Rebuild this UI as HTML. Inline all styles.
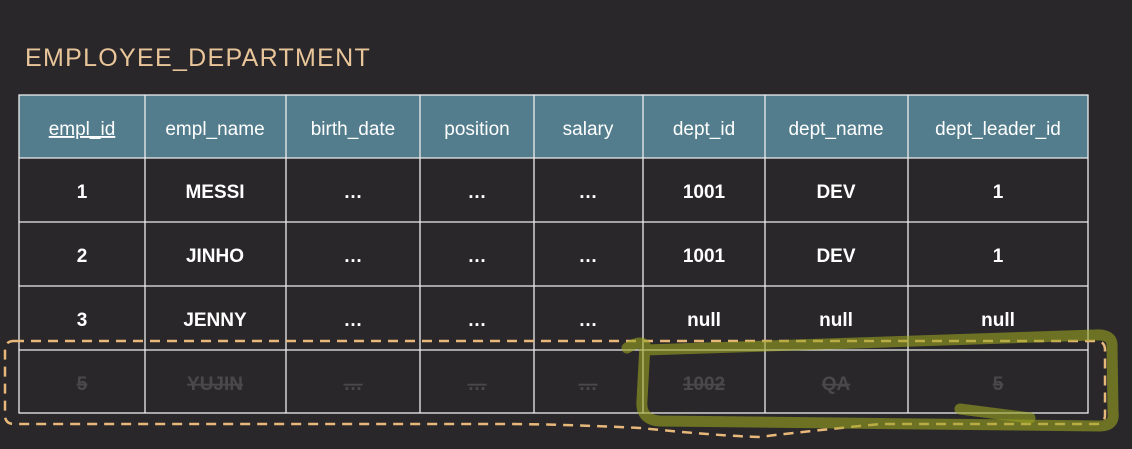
<!DOCTYPE html>
<html><head><style>
html,body{margin:0;padding:0;background:#29272a;width:1132px;height:449px;overflow:hidden}
svg text{font-family:"Liberation Sans",sans-serif}
</style></head><body>
<svg width="1132" height="449" viewBox="0 0 1132 449" xmlns="http://www.w3.org/2000/svg">
<rect width="1132" height="449" fill="#29272a"/>
<text x="25" y="66" font-size="25" fill="#e9c59a" letter-spacing="1.3">EMPLOYEE_DEPARTMENT</text>
<rect x="19" y="95" width="1069" height="63" fill="#537d8d"/>
<g stroke="#ededed" stroke-width="1.3" fill="none">
<rect x="19" y="95" width="1069" height="318"/>
<line x1="19" y1="158" x2="1088" y2="158"/>
<line x1="19" y1="222" x2="1088" y2="222"/>
<line x1="19" y1="286" x2="1088" y2="286"/>
<line x1="19" y1="350" x2="1088" y2="350"/>
<line x1="145" y1="95" x2="145" y2="413"/>
<line x1="286" y1="95" x2="286" y2="413"/>
<line x1="420" y1="95" x2="420" y2="413"/>
<line x1="534" y1="95" x2="534" y2="413"/>
<line x1="643" y1="95" x2="643" y2="413"/>
<line x1="765" y1="95" x2="765" y2="413"/>
<line x1="908" y1="95" x2="908" y2="413"/>
</g>
<g font-size="19" fill="#ffffff" text-anchor="middle">
<text x="82" y="135" text-decoration="underline">empl_id</text>
<text x="215" y="135">empl_name</text>
<text x="353" y="135">birth_date</text>
<text x="477" y="135">position</text>
<text x="588" y="135">salary</text>
<text x="704" y="135">dept_id</text>
<text x="836" y="135">dept_name</text>
<text x="998" y="135">dept_leader_id</text>
</g>
<g font-size="19" fill="#ffffff" text-anchor="middle" font-weight="bold">
<text x="82" y="198">1</text><text x="215" y="198">MESSI</text><text x="353" y="198">…</text><text x="477" y="198">…</text><text x="588" y="198">…</text><text x="704" y="198">1001</text><text x="836" y="198">DEV</text><text x="998" y="198">1</text>
<text x="82" y="262">2</text><text x="215" y="262">JINHO</text><text x="353" y="262">…</text><text x="477" y="262">…</text><text x="588" y="262">…</text><text x="704" y="262">1001</text><text x="836" y="262">DEV</text><text x="998" y="262">1</text>
<text x="82" y="326">3</text><text x="215" y="326">JENNY</text><text x="353" y="326">…</text><text x="477" y="326">…</text><text x="588" y="326">…</text><text x="704" y="326">null</text><text x="836" y="326">null</text><text x="998" y="326">null</text>
</g>
<g font-size="19" fill="#4a484b" text-anchor="middle" text-decoration="line-through" font-weight="bold">
<text x="82" y="390">5</text><text x="215" y="390">YUJIN</text><text x="353" y="390">…</text><text x="477" y="390">…</text><text x="588" y="390">…</text><text x="704" y="390">1002</text><text x="836" y="390">QA</text><text x="998" y="390">5</text>
</g>
<path d="M14 341 H1096 Q1105 341 1105 350 V415 Q1105 424 1096 424 H880 Q780 434 760 437 Q720 436 640 428 Q560 424 500 424 H14 Q5 424 5 415 V350 Q5 341 14 341 Z" fill="none" stroke="#e8b87a" stroke-width="2.5" stroke-dasharray="10 7"/>
<path d="M627 348 Q640 340 645 345 L642 400 Q640 420 660 421 L1100 426 Q1115 426 1113 412 L1112 345 Q1112 334 1095 335 L645 350" fill="none" stroke="#9aa322" stroke-opacity="0.6" stroke-width="11" stroke-linecap="round" stroke-linejoin="round"/>
<path d="M960 409 L1030 418" stroke="#9aa322" stroke-opacity="0.6" stroke-width="11" stroke-linecap="round"/>
</svg>
</body></html>
